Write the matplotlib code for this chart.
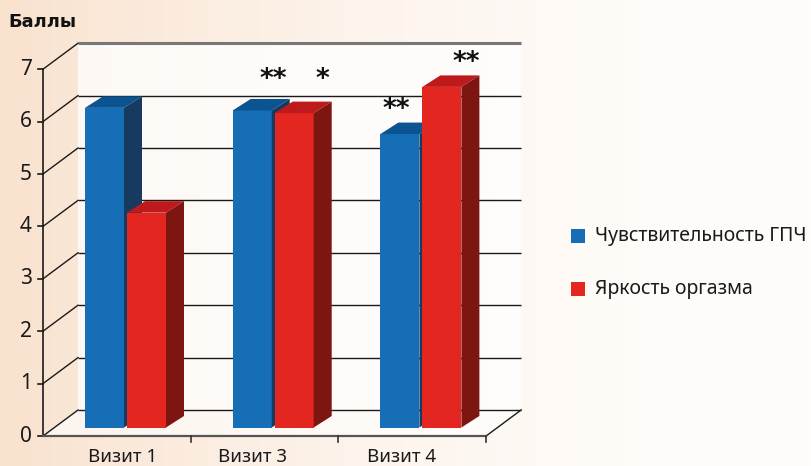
import numpy as np
import matplotlib
matplotlib.use("Agg")
import matplotlib.pyplot as plt
from matplotlib.patches import Polygon, Rectangle

CATEGORIES = ["Визит 1", "Визит 3", "Визит 4"]
SENSITIVITY = [6.1, 6.05, 5.6]
BRIGHTNESS = [4.1, 6.0, 6.5]
MARKS_SENSITIVITY = ["", "**", "**"]
MARKS_BRIGHTNESS = ["", "*", "**"]
SERIES_NAMES = ["Чувствительность ГПЧ", "Яркость оргазма"]
Y_TICKS = list(range(0, 8))
Y_TITLE = "Баллы"

FONT = "Noto Sans"

# pixel scale of one category / one unit on the front plane
PX = 147.7
PY = 52.4
W, H = 811, 466
X0, Y0 = 43, 436  # front-left corner of the floor (pixels)

# oblique depth of the walls and of each bar, in data units
WALL_DX, WALL_DY = 35 / PX, 26 / PY
BAR_DX, BAR_DY = 18 / PX, 11.5 / PY
PLANE_DX, PLANE_DY = 8.6 / PX, 8.5 / PY
BAR_W = 39 / PX
BAR_GAP = 3 / PX
BAR_LEFT = 42 / PX - PLANE_DX

# star placement relative to the bar's front-top centre (pixels: dx, dy)
STAR_OFFS_SENS = [(0, 0), (21, 30), (-4, 24)]
STAR_OFFS_BRIGHT = [(0, 0), (28, 33), (24, 24)]
LABEL_X_PX = [123, 253, 402]

COLORS = {
    "blue": ("#166fb6", "#0b5391", "#173a60"),
    "red": ("#e42621", "#bf1a1b", "#7d1611"),
}

fig = plt.figure(figsize=(W / 100, H / 100), dpi=100)
ax = fig.add_axes([0, 0, 1, 1])
ax.set_xlim(-X0 / PX, (W - X0) / PX)
ax.set_ylim(-(H - Y0) / PY, Y0 / PY)
ax.axis("off")

# warm horizontal background wash
t = np.linspace(0, 1, 400)
fade = (1 - t) ** 1.8
left = np.array([249, 226, 206]) / 255
right = np.array([255, 253, 251]) / 255
grad = right[None, :] + (left - right)[None, :] * fade[:, None]
ax.imshow(grad[None, :, :], extent=[*ax.get_xlim(), *ax.get_ylim()],
          aspect="auto", zorder=0)

n = len(CATEGORIES)
top = Y_TICKS[-1]

# back wall and floor
ax.add_patch(Polygon([(WALL_DX, WALL_DY), (n + WALL_DX, WALL_DY),
                      (n + WALL_DX, top + WALL_DY), (WALL_DX, top + WALL_DY)],
                     closed=True, fc="white", ec="none", alpha=0.75, zorder=1))
ax.add_patch(Polygon([(0, 0), (n, 0), (n + WALL_DX, WALL_DY), (WALL_DX, WALL_DY)],
                     closed=True, fc="white", ec="none", alpha=0.6, zorder=1))

for v in Y_TICKS:
    is_top = v == top
    ax.plot([WALL_DX, n + WALL_DX], [v + WALL_DY, v + WALL_DY],
            color="#777777" if is_top else "#1a1a1a",
            lw=2.2 if is_top else 1.0, zorder=2, solid_capstyle="butt")
    ax.plot([0, WALL_DX], [v, v + WALL_DY], color="#1a1a1a", lw=1.0, zorder=2)
    ax.plot([-5 / PX, 0], [v, v], color="#1a1a1a", lw=1.2, zorder=2)
    ax.text(-11 / PX, v, str(v), ha="right", va="center", fontsize=15,
            family=FONT, color="#1a1a1a", zorder=3)

ax.plot([n, n + WALL_DX], [0, WALL_DY], color="#1a1a1a", lw=1.0, zorder=2)
ax.plot([0, 0], [0, top], color="#1a1a1a", lw=1.2, zorder=4)
ax.plot([0, n], [0, 0], color="#555555", lw=1.6, zorder=4)
for i in range(1, n + 1):
    ax.plot([i, i], [0, -6 / PY], color="#333333", lw=1.2, zorder=4)


def draw_bar(x, value, palette, z):
    front, top_c, side = COLORS[palette]
    y0 = PLANE_DY
    x1 = x + BAR_W
    ax.add_patch(Rectangle((x, y0), BAR_W, value, fc=front, ec="none", zorder=z))
    ax.add_patch(Polygon([(x, y0 + value), (x1, y0 + value),
                          (x1 + BAR_DX, y0 + value + BAR_DY),
                          (x + BAR_DX, y0 + value + BAR_DY)],
                         closed=True, fc=top_c, ec="none", zorder=z))
    ax.add_patch(Polygon([(x1, y0), (x1 + BAR_DX, y0 + BAR_DY),
                          (x1 + BAR_DX, y0 + value + BAR_DY), (x1, y0 + value)],
                         closed=True, fc=side, ec="none", zorder=z))


def draw_stars(x, value, mark, offs):
    if not mark:
        return
    ax.text(x + BAR_W / 2 + offs[0] / PX, value + PLANE_DY + offs[1] / PY, mark,
            ha="center", va="center", fontsize=19, fontweight="bold",
            family="DejaVu Sans", color="#111111", zorder=10)


for i, (cat, s, b) in enumerate(zip(CATEGORIES, SENSITIVITY, BRIGHTNESS)):
    xb = i + BAR_LEFT + PLANE_DX
    xr = xb + BAR_W + BAR_GAP
    draw_bar(xb, s, "blue", 5 + 2 * i)
    draw_bar(xr, b, "red", 6 + 2 * i)
    draw_stars(xb, s, MARKS_SENSITIVITY[i], STAR_OFFS_SENS[i])
    draw_stars(xr, b, MARKS_BRIGHTNESS[i], STAR_OFFS_BRIGHT[i])
    ax.text((LABEL_X_PX[i] - X0) / PX, -21 / PY, cat, ha="center", va="center",
            fontsize=13.5, family=FONT, color="#1a1a1a", zorder=3)

ax.text(-35 / PX, (Y0 - 22) / PY, Y_TITLE, ha="left", va="center",
        fontsize=13, fontweight="bold", family="DejaVu Sans", color="#111111")

# legend
for name, key, ypx in zip(SERIES_NAMES, ["blue", "red"], [236, 289]):
    yv = (Y0 - ypx) / PY
    ax.add_patch(Rectangle(((571 - X0) / PX, yv - 7 / PY), 14 / PX, 14 / PY,
                           fc=COLORS[key][0], ec="none", zorder=3))
    ax.text((595 - X0) / PX, yv, name, ha="left", va="center", fontsize=14,
            family=FONT, color="#1a1a1a", zorder=3)

fig.savefig("out.png", dpi=100)
